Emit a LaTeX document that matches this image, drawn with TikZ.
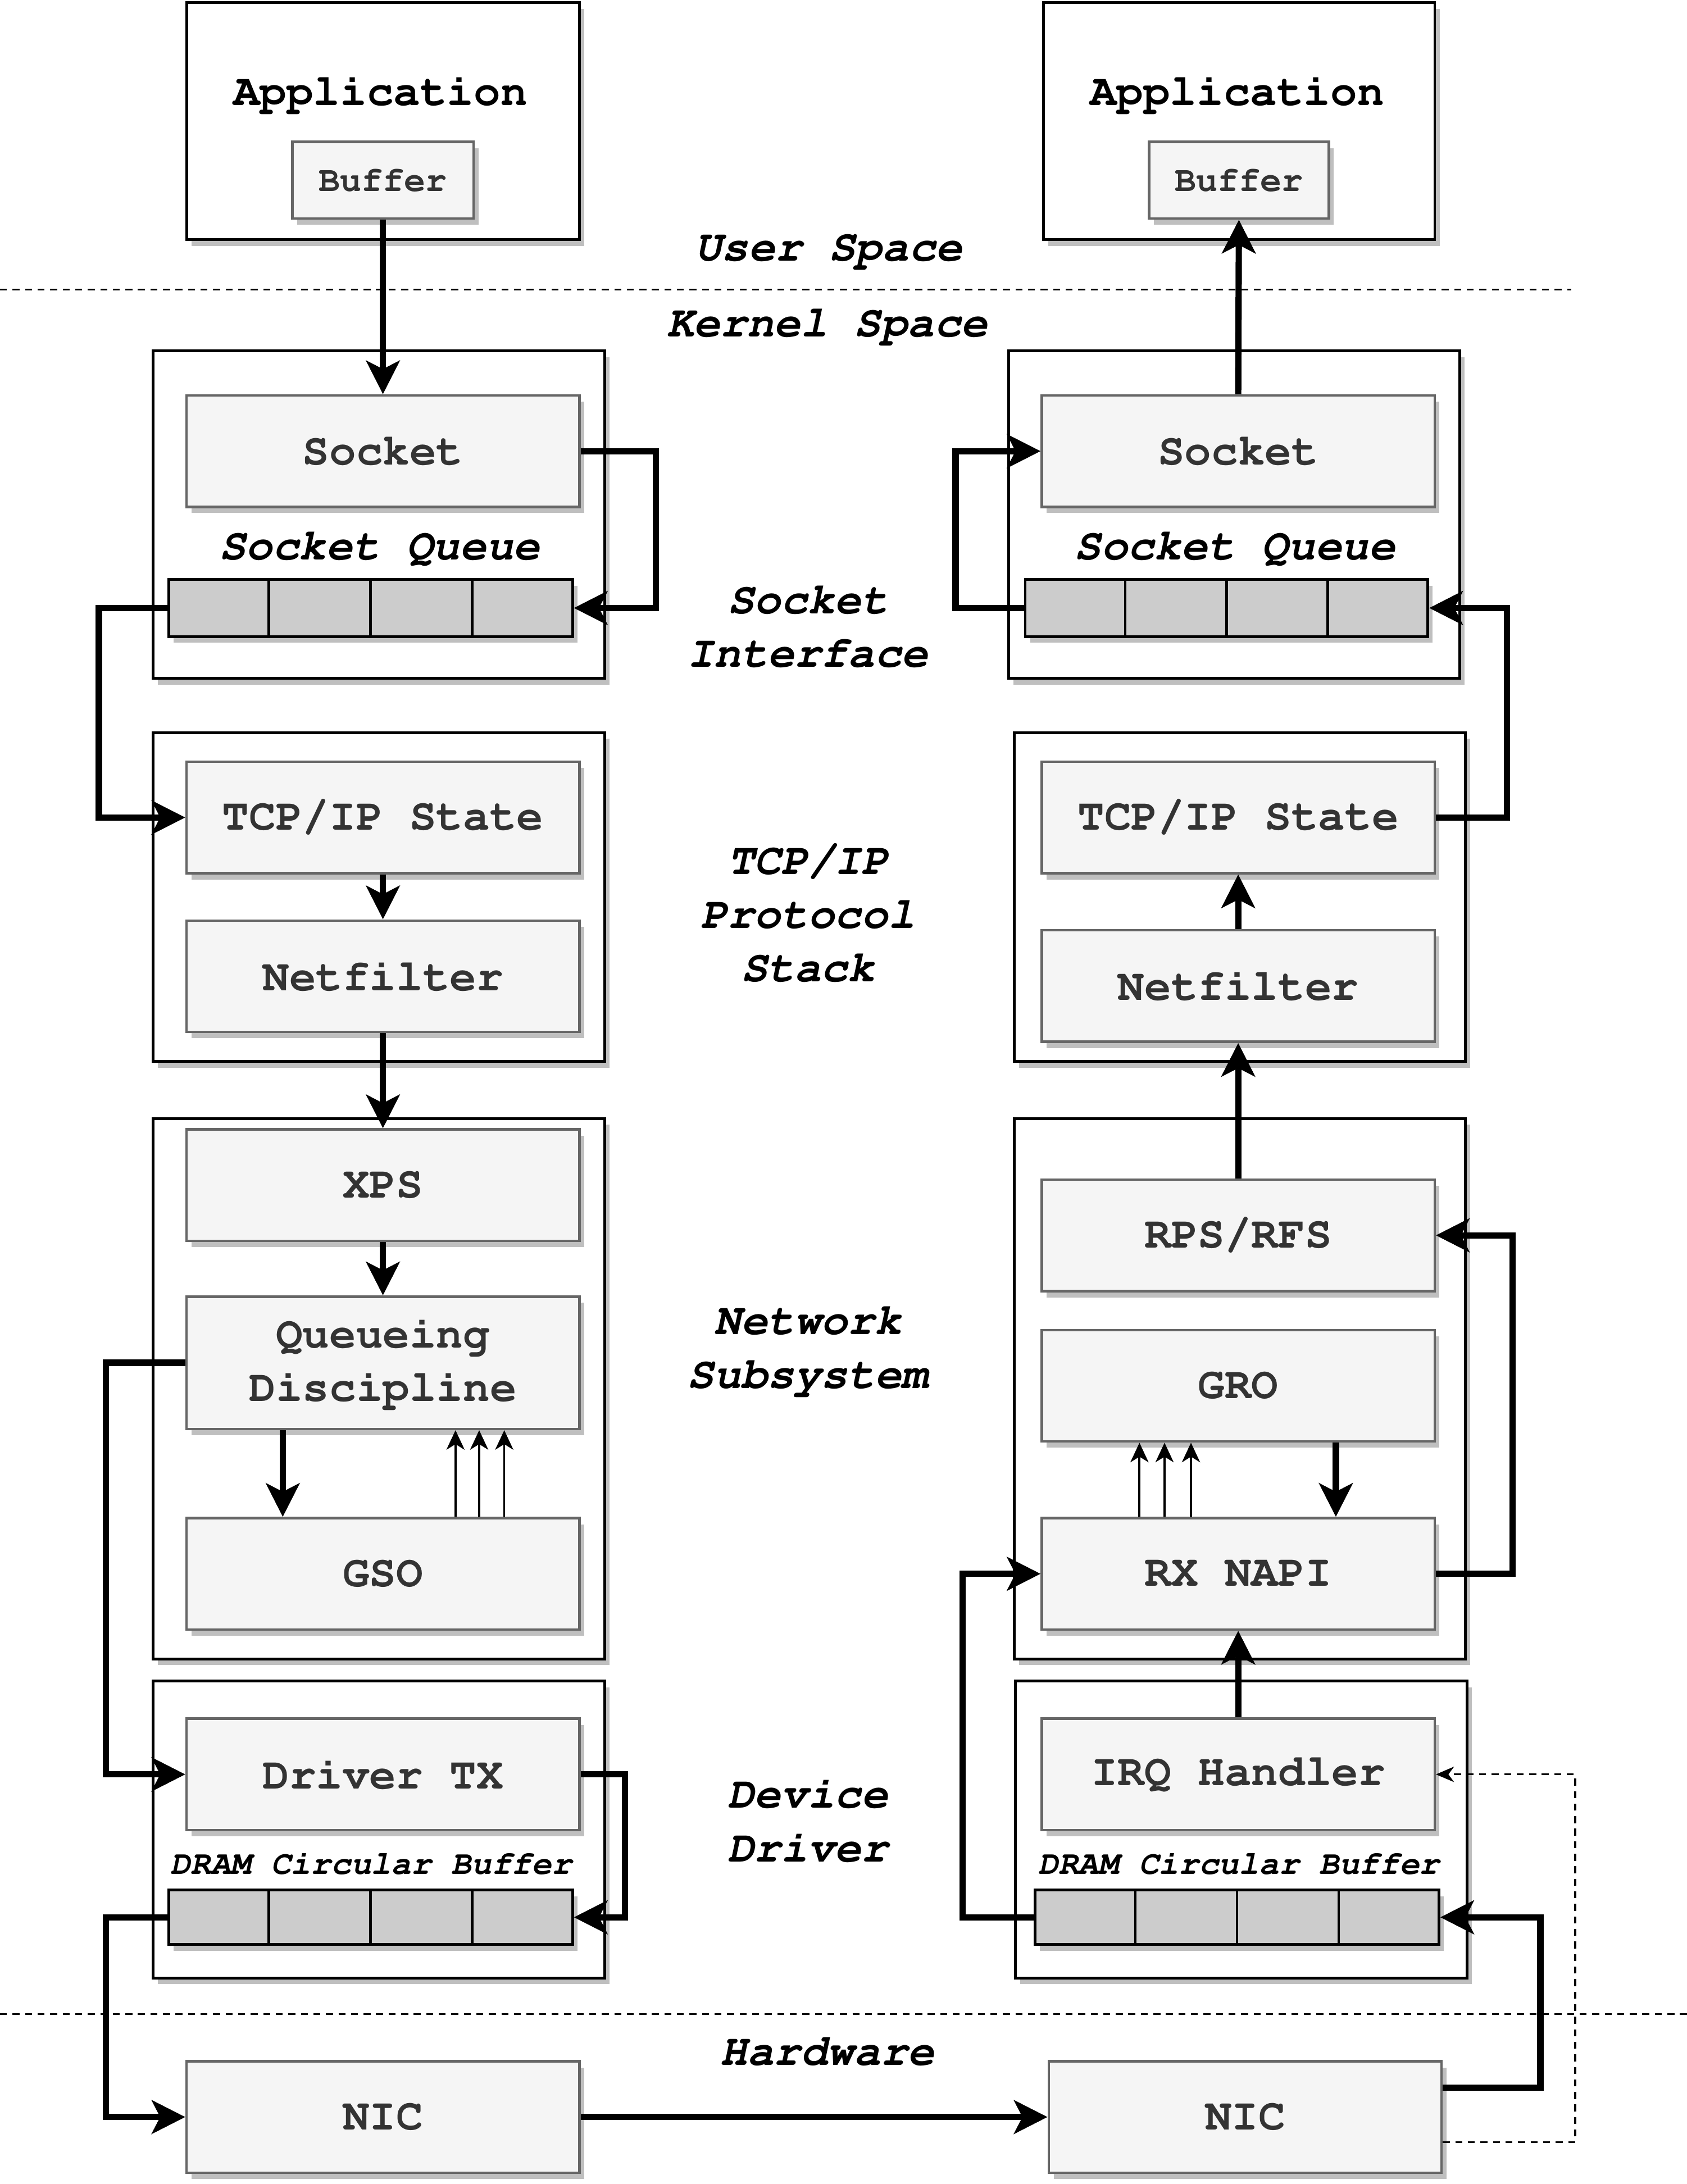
\documentclass[tikz,border=0pt]{standalone}
\usepackage[T1]{fontenc}
\usepackage{courier}
\usetikzlibrary{arrows.meta,shadows,calc}

\definecolor{boxfill}{HTML}{F5F5F5}
\definecolor{boxline}{HTML}{666666}
\definecolor{boxtext}{HTML}{333333}
\definecolor{cellfill}{HTML}{CCCCCC}
\definecolor{shade}{HTML}{BFBFBF}

\newcommand\txtbig{\fontsize{32}{38.5}\selectfont\ttfamily\bfseries}
\newcommand\txtbuf{\fontsize{25.6}{30}\selectfont\ttfamily\bfseries}
\newcommand\txtdram{\fontsize{24}{28}\selectfont\ttfamily\bfseries\itshape}

\tikzset{
  sh/.style={drop shadow={shadow xshift=3.5pt, shadow yshift=-4.5pt, fill=shade, opacity=1}},
  container/.style={draw=black, line width=2pt, fill=white, sh, inner sep=0pt,
    anchor=north west},
  stage/.style={draw=boxline, line width=1.8pt, fill=boxfill, sh, inner sep=0pt,
    anchor=north west, minimum width=282pt, minimum height=80pt,
    font=\txtbig, text=boxtext, align=center},
  bufbox/.style={draw=boxline, line width=1.8pt, fill=boxfill, sh, inner sep=0pt,
    anchor=north west, minimum width=130pt, minimum height=55pt,
    font=\txtbuf, text=boxtext},
  queue/.style={draw=black, line width=2pt, fill=cellfill, sh, inner sep=0pt,
    anchor=north west, minimum width=290pt, minimum height=41pt},
  lbl/.style={font=\txtbig\itshape, text=black, align=center, inner sep=0pt},
  qlbl/.style={font=\txtbig\itshape, text=black, inner sep=0pt},
  dlbl/.style={font=\txtdram, text=black, inner sep=0pt},
  apptext/.style={font=\txtbig, text=black, inner sep=0pt},
  thickarr/.style={line width=4.5pt, -{Stealth[length=24pt,width=24pt,inset=6pt]}},
  thinarr/.style={line width=1.5pt, -{Stealth[length=14pt,width=13pt,inset=4pt]}},
  dasharr/.style={line width=1.3pt, dash pattern=on 5pt off 4pt,
    -{Stealth[length=13pt,width=11pt,inset=4pt]}},
  sepline/.style={line width=1.2pt, dash pattern=on 5pt off 4pt},
}

\begin{document}
\begin{tikzpicture}[x=1pt, y=-1pt]
\useasboundingbox[fill=white] (0,0) rectangle (1211,1568);

% layer separators
\coordinate (uk0) at (0,208);
\coordinate (uk1) at (1128,208);
\coordinate (hw0) at (0,1446);
\coordinate (hw1) at (1211,1446);
\draw[sepline] (uk0) -- (uk1);
\draw[sepline] (hw0) -- (hw1);

% layer names
\node[lbl] (userlbl) at (595,180) {User Space};
\node[lbl] (kernlbl) at (594,234) {Kernel Space};
\node[lbl] (socklbl) at (580,450) {Socket\\Interface};
\node[lbl] (tcplbl)  at (580,656.5) {TCP/IP\\Protocol\\Stack};
\node[lbl] (netlbl)  at (580,969.5) {Network\\Subsystem};
\node[lbl] (drvlbl)  at (580,1307) {Device\\Driver};
\node[lbl] (hwlbl)   at (594,1473) {Hardware};

% ---------- sending side ----------
\node[container, minimum width=282pt, minimum height=170pt] (lapp) at (133,1) {};
\node[apptext] (lapptxt) at (273,67) {Application};
\node[bufbox] (lbuf) at (209,101) {Buffer};

\node[container, minimum width=324pt, minimum height=235pt] (lsockc) at (109,251) {};
\node[stage] (lsock) at (133,283) {Socket};
\node[qlbl] (lsqlbl) at (272.5,394) {Socket Queue};
\node[queue] (lq) at (120,415) {};

\node[container, minimum width=324pt, minimum height=236pt] (ltcpc) at (109,525) {};
\node[stage] (ltcp) at (133,546) {TCP/IP State};
\node[stage] (lnf) at (133,660) {Netfilter};

\node[container, minimum width=324pt, minimum height=388pt] (lnetc) at (109,802) {};
\node[stage] (lxps) at (133,810) {XPS};
\node[stage, minimum height=95pt] (lqd) at (133,930) {Queueing\\Discipline};
\node[stage] (lgso) at (133,1089) {GSO};

\node[container, minimum width=324pt, minimum height=213pt] (ldrvc) at (109,1206) {};
\node[stage] (ldtx) at (133,1233) {Driver TX};
\node[dlbl] (ldlbl) at (266.5,1338) {DRAM Circular Buffer};
\node[queue, minimum height=39pt] (lring) at (120,1356) {};

\node[stage] (lnic) at (133,1479) {NIC};

% ---------- receiving side ----------
\node[container, minimum width=281pt, minimum height=170pt] (rapp) at (748,1) {};
\node[apptext] (rapptxt) at (888,67) {Application};
\node[bufbox, minimum width=129pt] (rbuf) at (824,101) {Buffer};

\node[container, minimum width=324pt, minimum height=235pt] (rsockc) at (723,251) {};
\node[stage] (rsock) at (747,283) {Socket};
\node[qlbl] (rsqlbl) at (886.5,394) {Socket Queue};
\node[queue, minimum width=289pt] (rq) at (735,415) {};

\node[container, minimum width=324pt, minimum height=236pt] (rtcpc) at (727,525) {};
\node[stage] (rtcp) at (747,546) {TCP/IP State};
\node[stage] (rnf) at (747,667) {Netfilter};

\node[container, minimum width=324pt, minimum height=388pt] (rnetc) at (727,802) {};
\node[stage] (rrps) at (747,846) {RPS/RFS};
\node[stage] (rgro) at (747,954) {GRO};
\node[stage] (rnapi) at (747,1089) {RX NAPI};

\node[container, minimum width=324pt, minimum height=213pt] (rdrvc) at (728,1206) {};
\node[stage] (rirq) at (747,1233) {IRQ Handler};
\node[dlbl] (rdlbl) at (889.5,1338) {DRAM Circular Buffer};
\node[queue, minimum height=39pt] (rring) at (742,1356) {};

\node[stage] (rnic) at (752,1479) {NIC};

% queue slots
\foreach \q in {lq,rq,lring,rring}
  \foreach \k in {1,2,3}
    \draw[line width=1.8pt] ($(\q.north west)!\k/4!(\q.north east)$) -- ($(\q.south west)!\k/4!(\q.south east)$);

% ---------- transmit path ----------
\draw[thickarr] (lbuf.south) -- (lsock.north);
\draw[thickarr] (lsock.east) -- ++(54,0) |- (lq.east);
\draw[thickarr] (lq.west) -- ++(-49,0) |- (ltcp.west);
\draw[thickarr] (ltcp.south) -- (lnf.north);
\draw[thickarr] (lnf.south) -- (lxps.north);
\draw[thickarr] (lxps.south) -- (lqd.north);
\draw[thickarr] ([xshift=70pt]lqd.south west) -- ([xshift=70pt]lgso.north west);
\foreach \dx in {194,211,229}
  \draw[thinarr] ([xshift=\dx pt]lgso.north west) -- ([xshift=\dx pt]lqd.south west);
\draw[thickarr] (lqd.west) -- ++(-57,0) |- (ldtx.west);
\draw[thickarr] (ldtx.east) -- ++(32,0) |- (lring.east);
\draw[thickarr] (lring.west) -- ++(-44,0) |- (lnic.west);
\draw[thickarr] (lnic.east) -- (rnic.west);

% ---------- receive path ----------
\draw[thickarr] ([yshift=21pt]rnic.east) -- ++(70,0) |- (rring.east);
\draw[dasharr] ([yshift=-18pt]rnic.east) -- ++(95,0) |- (rirq.east);
\draw[thickarr] (rring.west) -- ++(-51,0) |- (rnapi.west);
\draw[thickarr] (rirq.north) -- (rnapi.south);
\draw[thickarr] ([xshift=212pt]rgro.south west) -- ([xshift=212pt]rnapi.north west);
\foreach \dx in {71,89,108}
  \draw[thinarr] ([xshift=\dx pt]rnapi.north west) -- ([xshift=\dx pt]rgro.south west);
\draw[thickarr] (rnapi.east) -- ++(55,0) |- (rrps.east);
\draw[thickarr] (rrps.north) -- (rnf.south);
\draw[thickarr] (rnf.north) -- (rtcp.south);
\draw[thickarr] (rtcp.east) -- ++(51,0) |- (rq.east);
\draw[thickarr] (rq.west) -- ++(-49,0) |- (rsock.west);
\draw[thickarr] (rsock.north) -- (rbuf.south);
\end{tikzpicture}
\end{document}
